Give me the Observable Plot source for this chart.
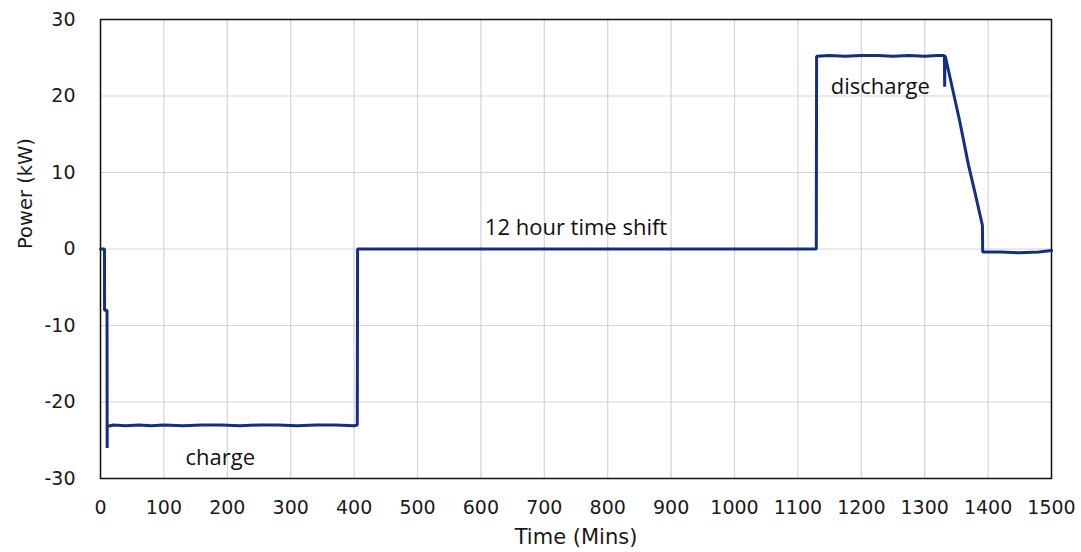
<!DOCTYPE html>
<html>
<head>
<meta charset="utf-8">
<script src="https://cdn.jsdelivr.net/npm/d3@7"></script>
<script src="https://cdn.jsdelivr.net/npm/@observablehq/plot@0.6"></script>
<style>
  html, body { margin: 0; padding: 0; background: #fff; }
  #chart { width: 1081px; height: 552px; }
</style>
</head>
<body>
<div id="chart"></div>
<script>
// Time (minutes)
const timeMin = [
  0, 6.3, 6.4, 10.3, 10.5, 10.6, 11, 20, 40, 60, 80, 100, 130, 160, 190, 220, 250, 280, 310, 340, 370, 400, 405,
  405.5, 600, 800, 1000, 1129,
  1129.5, 1150, 1175, 1200, 1225, 1250, 1275, 1300, 1320, 1331, 1331.5, 1332, 1332.5, 1355, 1369, 1380, 1391,
  1391.5, 1420, 1450, 1480, 1500
];
// Power (kW)
const powerKW = [
  0, 0, -8, -8, -26, -23.4, -23.2, -23.0, -23.1, -23.0, -23.1, -23.0, -23.1, -23.0, -23.0, -23.1, -23.0, -23.0, -23.1, -23.0, -23.0, -23.1, -23.0,
  0, 0, 0, 0, 0,
  25.2, 25.3, 25.2, 25.3, 25.3, 25.2, 25.3, 25.2, 25.3, 25.3, 21.2, 25.2, 25.2, 16.8, 11.0, 7.1, 3.1,
  -0.4, -0.4, -0.5, -0.4, -0.2
];
const yTicks = [-30, -20, -10, 0, 10, 20, 30];
const xTicks = [0, 100, 200, 300, 400, 500, 600, 700, 800, 900, 1000, 1100, 1200, 1300, 1400, 1500];
const noteText = ["charge", "12 hour time shift", "discharge"];
const noteX = [189, 750, 1230];
const noteY = [-27.3, 2.8, 21.2];

const series = timeMin.map((t, i) => ({t, p: powerKW[i]}));
const notes = noteText.map((s, i) => ({s, x: noteX[i], y: noteY[i]}));

const chart = Plot.plot({
  width: 1081,
  height: 552,
  marginLeft: 100,
  marginRight: 30,
  marginTop: 19,
  marginBottom: 74,
  style: {fontFamily: "'DejaVu Sans', sans-serif", fontSize: "19px", color: "#1a1a1a", background: "#fff"},
  x: {domain: [0, 1500]},
  y: {domain: [-30, 30]},
  marks: [
    Plot.gridX(xTicks, {stroke: "#d4d4d4", strokeOpacity: 1, strokeWidth: 1.2}),
    Plot.gridY(yTicks, {stroke: "#d4d4d4", strokeOpacity: 1, strokeWidth: 1.2}),
    Plot.axisX(xTicks, {tickSize: 0, tickPadding: 22, fontSize: 19, tickFormat: d => String(d), label: null}),
    Plot.axisY(yTicks, {tickSize: 0, tickPadding: 25, fontSize: 19, tickFormat: d => String(d), label: null}),
    Plot.frame({stroke: "#111", strokeWidth: 1.5}),
    Plot.line(series, {x: "t", y: "p", stroke: "#12307f", strokeWidth: 3, strokeLinejoin: "miter"}),
    Plot.text(notes, {x: "x", y: "y", text: "s", fontSize: 22, fontFamily: "'Open Sans', sans-serif", fill: "#111"}),
    Plot.text(["Time (Mins)"], {frameAnchor: "bottom", dy: 65, text: d => d, fontSize: 21, fontFamily: "'DejaVu Sans', sans-serif", fill: "#1a1a1a"}),
    Plot.text(["Power (kW)"], {frameAnchor: "left", dx: -75, rotate: -90, text: d => d, fontSize: 19.5, fontFamily: "'DejaVu Sans', sans-serif", fill: "#1a1a1a"})
  ]
});
document.getElementById("chart").appendChild(chart);
</script>
</body>
</html>
